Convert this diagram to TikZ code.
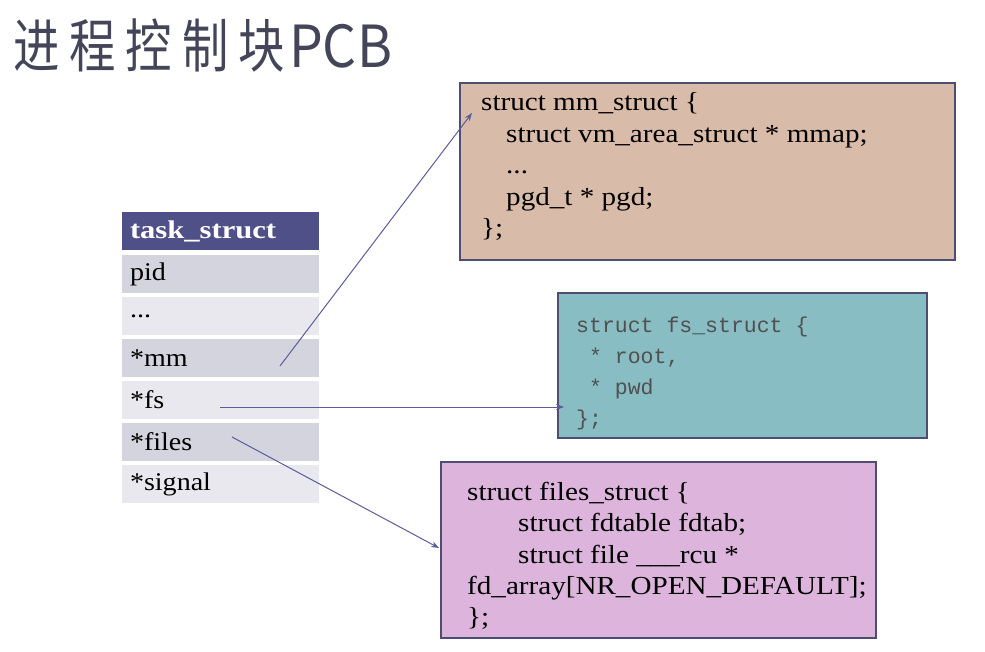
\documentclass[tikz,border=0pt]{standalone}
\usepackage{fontspec}
\setmainfont{Liberation Serif}
\newfontfamily\codef[FakeStretch=1.12]{Liberation Serif}
\newfontfamily\rowf[FakeStretch=1.1]{Liberation Serif}
\newfontfamily\hdrf[FakeStretch=1.2]{Liberation Serif}
\newfontfamily\monof{Liberation Mono}
\newfontfamily\cjk[FakeStretch=0.8]{Noto Sans CJK SC}
\newfontfamily\cjkb[FakeStretch=0.92]{Noto Sans CJK SC}
\usetikzlibrary{arrows.meta}
\definecolor{hdr}{HTML}{505088}
\definecolor{rowA}{HTML}{D4D4DE}
\definecolor{rowB}{HTML}{E8E8EE}
\definecolor{mmfill}{HTML}{D9BBA9}
\definecolor{fsfill}{HTML}{87BDC3}
\definecolor{filesfill}{HTML}{DCB4DC}
\definecolor{bord}{HTML}{4E4E72}
\definecolor{arr}{HTML}{5C5C9C}
\definecolor{ttl}{HTML}{45455A}
\definecolor{monotxt}{HTML}{505050}
\tikzset{
  row/.style={minimum width=197pt, minimum height=38pt, text width=181pt, align=left, inner sep=0pt, font=\rowf\fontsize{25.5}{28}\selectfont, anchor=center},
  bigbox/.style={draw=bord, line width=1.6pt, anchor=north west, inner sep=0pt},
  codeline/.style={anchor=base west, inner sep=0pt, font=\codef\fontsize{26}{28}\selectfont},
  monoline/.style={anchor=base west, inner sep=0pt, font=\monof\fontsize{21.5}{26}\selectfont, text=monotxt},
  link/.style={draw=arr, line width=1pt, -{Stealth[length=8pt,width=6pt]}}
}
\begin{document}
\begin{tikzpicture}[x=1pt,y=-1pt]
\useasboundingbox (0,0) rectangle (985,652);
\fill[white] (0,0) rectangle (985,652);
% title
\node[anchor=base west, inner sep=0pt, text=ttl, font=\fontsize{58}{60}\selectfont] (title) at (13,68) {\cjk 进\hspace{10pt}程\hspace{10pt}控\hspace{10pt}制\hspace{10pt}块\hspace{4pt}\cjkb PCB};
% table
\node[row, fill=hdr, text=white, font=\hdrf\bfseries\fontsize{25.5}{28}\selectfont] (hd) at (220.5,231) {task\_struct};
\node[row, fill=rowA] (rpid) at (220.5,274) {pid};
\node[row, fill=rowB] (rdots) at (220.5,316) {...};
\node[row, fill=rowA] (rmm) at (220.5,358) {*mm};
\node[row, fill=rowB] (rfs) at (220.5,400) {*fs};
\node[row, fill=rowA] (rfiles) at (220.5,442) {*files};
\node[row, fill=rowB] (rsig) at (220.5,484) {*signal};
% mm box
\node[bigbox, fill=mmfill, minimum width=495pt, minimum height=177pt] (mmbox) at (459,82) {};
\node[codeline] (m1) at (481,111) {struct mm\_struct \{};
\node[codeline] (m2) at (506,142.5) {struct vm\_area\_struct * mmap;};
\node[codeline] (m3) at (506,174) {...};
\node[codeline] (m4) at (506,205.5) {pgd\_t * pgd;};
\node[codeline] (m5) at (481,237) {\};};
% fs box
\node[bigbox, fill=fsfill, minimum width=369pt, minimum height=145pt] (fsbox) at (557,292) {};
\node[monoline] (f1) at (576,332) {struct fs\_struct \{};
\node[monoline] (f2) at (576,363) {\ * root,};
\node[monoline] (f3) at (576,394) {\ * pwd};
\node[monoline] (f4) at (576,425) {\};};
% files box
\node[bigbox, fill=filesfill, minimum width=435pt, minimum height=176pt] (filesbox) at (440,461) {};
\node[codeline] (g1) at (467,500) {struct files\_struct \{};
\node[codeline] (g2) at (518,531) {struct fdtable fdtab;};
\node[codeline] (g3) at (518,563) {struct file \_\_\_rcu *};
\node[codeline] (g4) at (467,594) {fd\_array[NR\_OPEN\_DEFAULT];};
\node[codeline] (g5) at (467,625) {\};};
% connectors
\coordinate (smm) at (280,366);
\coordinate (emm) at (472,113);
\coordinate (sfs) at (220,407);
\coordinate (efs) at (564,407);
\coordinate (sfi) at (232,437);
\coordinate (efi) at (439,548);
\draw[link] (smm) -- (emm);
\draw[link] (sfs) -- (efs);
\draw[link] (sfi) -- (efi);
\end{tikzpicture}
\end{document}
